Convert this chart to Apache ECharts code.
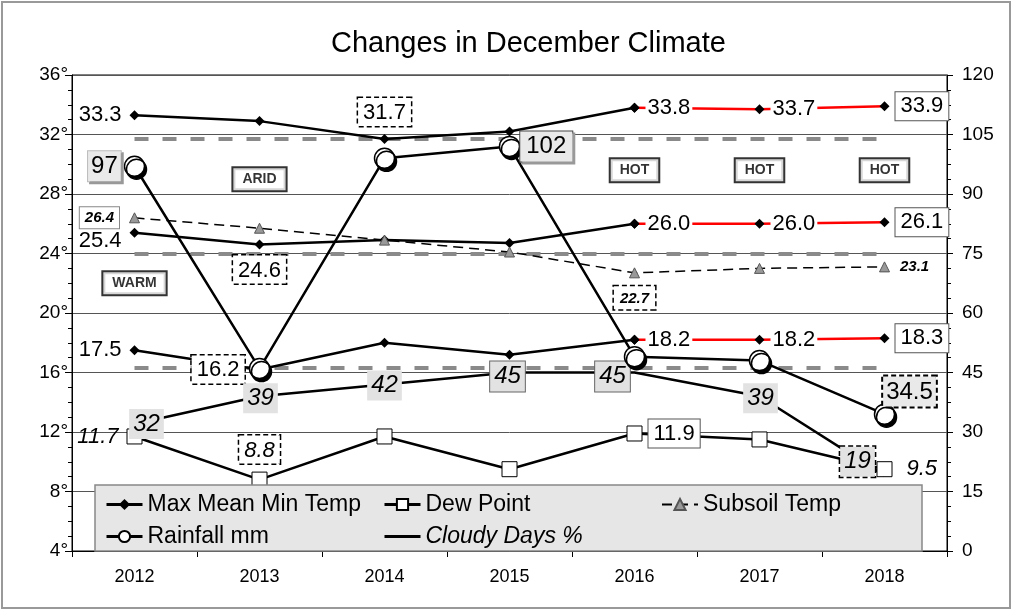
<!DOCTYPE html>
<html>
<head>
<meta charset="utf-8">
<script src="https://cdn.jsdelivr.net/npm/echarts@6/dist/echarts.min.js"></script>
<style>
html,body{margin:0;padding:0;background:#fff;}
#chart{width:1017px;height:612px;}
</style>
</head>
<body>
<div id="chart"></div>
<script>
const years = ['2012', '2013', '2014', '2015', '2016', '2017', '2018'];
const maxTemp = [33.3, 32.9, 31.7, 32.2, 33.8, 33.7, 33.9];
const meanTemp = [25.4, 24.6, 24.9, 24.7, 26.0, 26.0, 26.1];
const minTemp = [17.5, 16.2, 18.0, 17.2, 18.2, 18.2, 18.3];
const dewPoint = [11.7, 8.8, 11.7, 9.5, 11.9, 11.5, 9.5];
const subsoil = [26.4, 25.7, 24.9, 24.1, 22.7, 23.0, 23.1];
const rainfall = [97, 46, 99, 102, 49, 48, 34.5];
const cloudy = [32, 39, 42, 45, 45, 39, 19];
const thresholds = [31.7, 24.0, 16.3];
const zoneYears = ['2012', '2013', '2016', '2017', '2018'];
const zoneLevels = [22.0, 29.0, 29.6, 29.6, 29.6];
const zoneNames = ['WARM', 'ARID', 'HOT', 'HOT', 'HOT'];
const leftTicks = {min: 4, max: 36, interval: 4};
const rightTicks = {min: 0, max: 120, interval: 15};

const FONT = 'Liberation Sans, Arial, sans-serif';
const fmt1 = function (p) { return Number(p.value).toFixed(1); };
const base = {show: true, fontFamily: FONT, fontSize: 22, color: '#000'};
const plain = Object.assign({}, base);
const whiteBg = Object.assign({}, base, {backgroundColor: '#fff', padding: [2, 2, 0, 2]});
const solidBox = Object.assign({}, base, {backgroundColor: '#fff', borderColor: '#555', borderWidth: 1, padding: [4, 5, 2, 5]});
const dashBox = Object.assign({}, base, {backgroundColor: '#fff', borderColor: '#000', borderWidth: 1.5, borderType: [5, 3], padding: [4, 5, 2, 5]});
function L(style, extra) { return Object.assign({}, style, extra); }

const maxBlackLabels = {
  0: L(plain, {position: 'left', distance: 8}),
  2: L(dashBox, {position: 'top', distance: 8})
};
const redLabels = {
  4: L(whiteBg, {position: 'right', distance: 6}),
  5: L(whiteBg, {position: 'right', distance: 6}),
  6: L(solidBox, {position: 'right', distance: 6})
};
const meanBlackLabels = {
  0: L(plain, {position: 'left', distance: 8, offset: [0, 8]}),
  1: L(dashBox, {position: 'bottom', distance: 6})
};
const minBlackLabels = {
  0: L(plain, {position: 'left', distance: 8}),
  1: L(dashBox, {position: 'left', distance: 10})
};
const dewLabels = {
  0: L(plain, {position: 'left', distance: 8, fontStyle: 'italic'}),
  1: L(dashBox, {position: 'top', distance: 8, fontStyle: 'italic'}),
  4: L(solidBox, {position: 'right', distance: 6}),
  6: L(plain, {position: 'right', distance: 14, fontStyle: 'italic'})
};
const soilStyle = {fontSize: 15, fontWeight: 'bold', fontStyle: 'italic'};
const subsoilLabels = {
  0: L(solidBox, Object.assign({position: 'left', distance: 10, borderColor: '#888', padding: [4, 5, 2, 5]}, soilStyle)),
  4: L(dashBox, Object.assign({position: 'bottom', distance: 8, padding: [5, 6, 3, 6]}, soilStyle)),
  6: L(plain, Object.assign({position: 'right', distance: 10}, soilStyle))
};
const hatch = '#e9e9e9';
const rainLabels = {
  0: L(base, {position: 'left', distance: 3, fontSize: 24, backgroundColor: hatch, borderColor: '#bbb', borderWidth: 1, padding: [4, 3, 2, 3], shadowColor: '#999', shadowOffsetX: 2, shadowOffsetY: 2}),
  3: L(base, {position: 'right', distance: 0, fontSize: 24, backgroundColor: hatch, borderColor: '#444', borderWidth: 1, padding: [4, 6, 2, 6], shadowColor: '#999', shadowOffsetX: 2, shadowOffsetY: 2}),
  6: L(base, {position: 'top', distance: 5, offset: [25, 8], fontSize: 24, backgroundColor: hatch, borderColor: '#000', borderWidth: 2, borderType: [5, 3], padding: [4, 3, 2, 3]})
};
const cl = L(base, {position: 'inside', fontSize: 24, fontStyle: 'italic', backgroundColor: '#e2e2e2', padding: [4, 4, 2, 4]});
const cloudyLabels = {
  0: L(cl, {offset: [12, 0]}),
  1: L(cl, {offset: [1, 2]}),
  2: L(cl, {offset: [0, 1]}),
  3: L(cl, {offset: [-2, 4], borderColor: '#666', borderWidth: 1}),
  4: L(cl, {offset: [-22, 4], borderColor: '#666', borderWidth: 1}),
  5: L(cl, {offset: [1, 2]}),
  6: L(cl, {offset: [-27, -14], borderColor: '#000', borderWidth: 1.5, borderType: [5, 3]})
};

function items(values, labels, keep, formatter) {
  return values.map(function (v, i) {
    const val = keep && !keep(i) ? null : v;
    const it = {value: val};
    if (labels[i]) {
      it.label = formatter ? Object.assign({formatter: formatter}, labels[i]) : labels[i];
    } else {
      it.label = {show: false};
    }
    return it;
  });
}
const early = function (i) { return i <= 4; };
const late = function (i) { return i >= 4; };

function tempLine(values, labels, keep, color) {
  return {
    name: 'Max Mean Min Temp', type: 'line', yAxisIndex: 0, z: 3,
    data: items(values, labels, keep, fmt1),
    symbol: 'diamond', symbolSize: 10, itemStyle: {color: '#000'},
    lineStyle: {color: color, width: 2.5}
  };
}

const series = [
  tempLine(maxTemp, maxBlackLabels, early, '#000'),
  tempLine(meanTemp, meanBlackLabels, early, '#000'),
  tempLine(minTemp, minBlackLabels, early, '#000'),
  tempLine(maxTemp, redLabels, late, '#ff0000'),
  tempLine(meanTemp, redLabels, late, '#ff0000'),
  tempLine(minTemp, redLabels, late, '#ff0000'),
  {
    name: 'Dew Point', type: 'line', yAxisIndex: 0, z: 3,
    data: items(dewPoint, dewLabels, null, fmt1),
    symbol: 'rect', symbolSize: 15,
    itemStyle: {color: '#fff', borderColor: '#000', borderWidth: 1},
    lineStyle: {color: '#000', width: 2.5}
  },
  {
    name: 'Subsoil Temp', type: 'line', yAxisIndex: 0, z: 3,
    data: items(subsoil, subsoilLabels, null, fmt1),
    symbol: 'triangle', symbolSize: 10,
    itemStyle: {color: '#999', borderColor: '#555', borderWidth: 1},
    lineStyle: {color: '#000', width: 1.5, type: [10, 6]},
    markLine: {
      silent: true, symbol: 'none', z: 1,
      label: {show: false},
      lineStyle: {color: '#8a8a8a', width: 4, type: [14, 14]},
      data: thresholds.map(function (t) { return [{coord: [years[0], t]}, {coord: [years[years.length - 1], t]}]; })
    }
  },
  {
    name: 'Rainfall mm', type: 'line', yAxisIndex: 1, z: 4,
    data: items(rainfall, rainLabels),
    symbol: 'circle', symbolSize: 20,
    itemStyle: {color: '#fff', borderColor: '#000', borderWidth: 1.5, shadowColor: '#000', shadowOffsetX: 2, shadowOffsetY: 3, shadowBlur: 0},
    lineStyle: {color: '#000', width: 2.5}
  },
  {
    name: 'Cloudy Days %', type: 'line', yAxisIndex: 1, z: 3,
    data: items(cloudy, cloudyLabels),
    symbol: 'circle', symbolSize: 0, showSymbol: true,
    itemStyle: {color: 'rgba(0,0,0,0)', borderWidth: 0},
    lineStyle: {color: '#000', width: 2.5}
  },
  {
    name: 'zones', type: 'scatter', yAxisIndex: 0, z: 5, silent: true,
    symbolSize: 0,
    data: zoneYears.map(function (y, i) { return {value: [y, zoneLevels[i]], name: zoneNames[i]}; }),
    label: {
      show: true, position: 'inside', formatter: '{b}',
      fontFamily: FONT, fontSize: 14, fontWeight: 'bold', color: '#000',
      backgroundColor: '#fff', borderColor: '#000', borderWidth: 2, padding: [5, 9, 3, 9]
    }
  }
];

const legendText = {fontFamily: FONT, fontSize: 23, color: '#000'};
function legend(left, data) {
  return {
    orient: 'vertical', left: left, top: 488, itemGap: 9, itemWidth: 36, itemHeight: 14,
    textStyle: legendText, data: data, selectedMode: false, z: 6
  };
}

const chart = echarts.init(document.getElementById('chart'), null, {renderer: 'canvas'});
chart.setOption({
  backgroundColor: '#fff',
  animation: false,
  title: {
    text: 'Changes in December Climate', left: 326, top: 24,
    textStyle: {fontFamily: FONT, fontSize: 29, fontWeight: 'normal', color: '#000'}
  },
  grid: {left: 72, right: 70, top: 75, bottom: 61, show: true, borderColor: '#000', borderWidth: 1, backgroundColor: 'transparent'},
  legend: [
    legend(100, [{name: 'Max Mean Min Temp', lineStyle: {width: 3}}, {name: 'Rainfall mm', lineStyle: {width: 3}}]),
    legend(378, [{name: 'Dew Point', lineStyle: {width: 3}}, {name: 'Cloudy Days %', textStyle: {fontStyle: 'italic'}, itemStyle: {opacity: 0}, lineStyle: {width: 3}}]),
    legend(656, ['Subsoil Temp'])
  ],
  graphic: [
    {type: 'rect', z: 5, shape: {x: 95, y: 485, width: 827, height: 66}, style: {fill: '#e6e6e6', stroke: '#888', lineWidth: 1.5}},
    {type: 'rect', z: 0, shape: {x: 2, y: 2, width: 1008, height: 606}, style: {fill: 'none', stroke: '#999', lineWidth: 2}}
  ],
  xAxis: {
    type: 'category', data: years, boundaryGap: true,
    axisLine: {lineStyle: {color: '#000', width: 1}},
    axisTick: {show: true, length: 6, lineStyle: {color: '#000'}},
    axisLabel: {fontFamily: FONT, fontSize: 18, color: '#000', margin: 17}
  },
  yAxis: [
    {
      type: 'value', min: leftTicks.min, max: leftTicks.max, interval: leftTicks.interval,
      axisLine: {show: true, lineStyle: {color: '#000'}},
      axisTick: {show: true, length: 7, lineStyle: {color: '#000'}},
      minorTick: {show: true, splitNumber: 4, length: 4, lineStyle: {color: '#000'}},
      splitLine: {show: true, lineStyle: {color: '#555', width: 1}},
      axisLabel: {formatter: '{value}°', fontFamily: FONT, fontSize: 19, color: '#000', margin: 4}
    },
    {
      type: 'value', min: rightTicks.min, max: rightTicks.max, interval: rightTicks.interval,
      position: 'right',
      axisLine: {show: true, lineStyle: {color: '#000'}},
      axisTick: {show: true, length: 6, lineStyle: {color: '#000'}},
      minorTick: {show: true, splitNumber: 4, length: 4, lineStyle: {color: '#000'}},
      splitLine: {show: false},
      axisLabel: {fontFamily: FONT, fontSize: 19, color: '#000', margin: 15}
    }
  ],
  series: series
});
</script>
</body>
</html>
